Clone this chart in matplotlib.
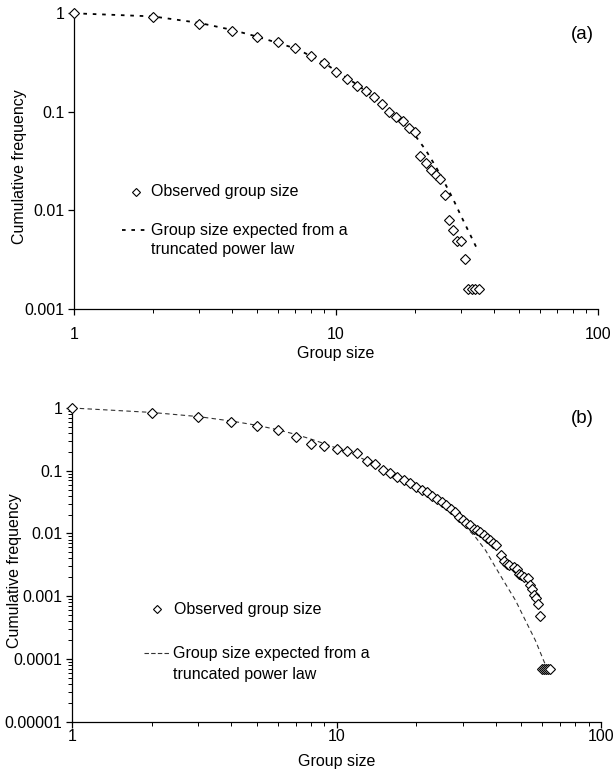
import matplotlib
matplotlib.use('Agg')
import matplotlib.pyplot as plt
from matplotlib.ticker import FixedLocator, FixedFormatter, LogLocator, NullFormatter, NullLocator
from matplotlib.lines import Line2D

plt.rcParams['font.family'] = ['Liberation Sans', 'DejaVu Sans']

# ---------------- data: panel (a) ----------------
a_size = [1, 2, 3, 4, 5, 6, 7, 8, 9, 10, 11, 12, 13, 14, 15, 16, 17, 18, 19, 20,
          21, 22, 23, 24, 25, 26, 27, 28, 29, 30, 31, 32, 33, 34, 35]
a_freq = [1.0, 0.925, 0.78, 0.667, 0.58, 0.51, 0.44, 0.372, 0.314, 0.256, 0.216,
          0.185, 0.164, 0.14, 0.119, 0.10, 0.088, 0.080, 0.068, 0.062,
          0.0353, 0.030, 0.0256, 0.0228, 0.0208, 0.0144, 0.008, 0.0064, 0.00485,
          0.00485, 0.0032, 0.0016, 0.0016, 0.0016, 0.0016]
a_fit_size = [1, 2, 3, 4, 5, 6, 7, 8, 9, 10, 12, 14, 16, 18, 20, 22, 24, 26, 28,
              30, 32, 35]
a_fit_freq = [1.0, 0.93, 0.80, 0.68, 0.58, 0.50, 0.44, 0.37, 0.315, 0.26, 0.19,
              0.14, 0.102, 0.077, 0.058, 0.041, 0.028, 0.019, 0.013, 0.0088,
              0.0062, 0.0038]

# ---------------- data: panel (b) ----------------
b_size = [1, 2, 3, 4, 5, 6, 7, 8, 9, 10, 11, 12, 13, 14, 15, 16, 17, 18, 19, 20,
          21, 22, 23, 24, 25, 26, 27, 28, 29, 30, 31, 32, 33, 34, 35, 36, 37, 38,
          39, 40, 42, 43, 44, 45, 47, 48, 49, 50, 51, 53, 54, 55, 56, 57, 58, 59,
          60, 61, 62, 63, 64]
b_freq = [1.0, 0.83, 0.72, 0.60, 0.51, 0.446, 0.349, 0.263, 0.245, 0.222, 0.204,
          0.191, 0.141, 0.126, 0.101, 0.091, 0.080, 0.072, 0.064, 0.055,
          0.049, 0.045, 0.040, 0.035, 0.032, 0.028, 0.025, 0.022, 0.018, 0.0163,
          0.0147, 0.0135, 0.012, 0.0115, 0.0106, 0.0094, 0.0086, 0.0078, 0.0070,
          0.0065, 0.0045, 0.0037, 0.0033, 0.0031, 0.0029, 0.00275, 0.0023,
          0.00215, 0.0020, 0.00197, 0.0015, 0.00128, 0.00103, 0.00095, 0.00076,
          0.00049, 0.00007, 0.00007, 0.00007, 0.00007, 0.00007]
b_fit_size = [1, 2, 3, 4, 5, 6, 7, 8, 9, 10, 12, 14, 16, 18, 20, 22, 24.4, 27.4,
              30.8, 33.5, 36.6, 39.9, 43.5, 47.5, 51.8, 56.5, 60.7, 63.4]
b_fit_freq = [1.0, 0.85, 0.73, 0.62, 0.53, 0.45, 0.38, 0.32, 0.27, 0.23, 0.17,
              0.125, 0.092, 0.068, 0.053, 0.0434, 0.0319, 0.0208, 0.0127, 0.0088,
              0.0054, 0.0029, 0.00158, 0.00086, 0.00041, 0.000197, 0.0000942,
              0.0000616]

x_ticks = [1, 10, 100]
x_tick_labels = ['1', '10', '100']
a_y_ticks = [0.001, 0.01, 0.1, 1]
a_y_tick_labels = ['0.001', '0.01', '0.1', '1']
b_y_ticks = [0.00001, 0.0001, 0.001, 0.01, 0.1, 1]
b_y_tick_labels = ['0.00001', '0.0001', '0.001', '0.01', '0.1', '1']

obs_label = 'Observed group size'
fit_label_1 = 'Group size expected from a'
fit_label_2 = 'truncated power law'

FS = 11.5

W, H = 614, 769
fig = plt.figure(figsize=(W / 100, H / 100), dpi=100)
axA = fig.add_axes([74 / W, 1 - 309 / H, 524 / W, 295.7 / H])
axB = fig.add_axes([72 / W, 1 - 721.7 / H, 529 / W, 313.7 / H])


def style(ax, yticks, ylabels, ylim, yminor, xpad, xlab_y, ylab_x):
    ax.set_xscale('log')
    ax.set_yscale('log')
    ax.set_xlim(1, 100)
    ax.set_ylim(*ylim)
    for s in ('top', 'right'):
        ax.spines[s].set_visible(False)
    for s in ('left', 'bottom'):
        ax.spines[s].set_linewidth(0.9)
    ax.xaxis.set_major_locator(FixedLocator(x_ticks))
    ax.xaxis.set_major_formatter(FixedFormatter(x_tick_labels))
    ax.xaxis.set_minor_locator(LogLocator(base=10, subs=range(2, 10)))
    ax.xaxis.set_minor_formatter(NullFormatter())
    ax.yaxis.set_major_locator(FixedLocator(yticks))
    ax.yaxis.set_major_formatter(FixedFormatter(ylabels))
    if yminor:
        ax.yaxis.set_minor_locator(LogLocator(base=10, subs=range(2, 10)))
    else:
        ax.yaxis.set_minor_locator(NullLocator())
    ax.yaxis.set_minor_formatter(NullFormatter())
    ax.tick_params(which='major', direction='out', length=4, width=0.9,
                   labelsize=FS)
    ax.tick_params(axis='y', which='major', pad=3)
    ax.tick_params(axis='x', which='major', pad=xpad)
    ax.tick_params(which='minor', direction='out', length=3, width=0.7)
    ax.set_xlabel('Group size', fontsize=FS)
    ax.xaxis.set_label_coords(0.5, xlab_y)
    ax.xaxis.label.set_va('center')
    ax.set_ylabel('Cumulative frequency', fontsize=FS)
    ax.yaxis.set_label_coords(ylab_x, 0.48)
    ax.yaxis.label.set_va('center')


style(axA, a_y_ticks, a_y_tick_labels, (0.001, 1), False, 9, -0.152, -0.104)
style(axB, b_y_ticks, b_y_tick_labels, (0.00001, 1), True, 1.5, -0.1275, -0.108)

# panel (a)
axA.plot(a_fit_size, a_fit_freq, color='black', lw=1.3, linestyle=(0, (2, 3.2)),
         clip_on=False, zorder=2)
axA.plot(a_size, a_freq, linestyle='none', marker='D', markersize=5.2,
         markerfacecolor='white', markeredgecolor='black', markeredgewidth=0.8,
         clip_on=False, zorder=3)

# panel (b)
axB.plot(b_fit_size, b_fit_freq, color='#333333', lw=0.8, linestyle=(0, (4, 3)),
         clip_on=False, zorder=2)
axB.plot(b_size, b_freq, linestyle='none', marker='D', markersize=5.0,
         markerfacecolor='white', markeredgecolor='black', markeredgewidth=0.8,
         clip_on=False, zorder=3)


# legends (drawn manually to reproduce the original layout)
def legend(ax, mx, my, ox, lx0, lx1, ly, tx, ty2, ls, lw, lc, ms):
    ax.add_line(Line2D([mx], [my], transform=ax.transAxes, marker='D',
                       markersize=ms, markerfacecolor='white',
                       markeredgecolor='black', markeredgewidth=0.8,
                       linestyle='none'))
    ax.text(ox, my, obs_label, transform=ax.transAxes, fontsize=FS,
            va='center', ha='left')
    ax.add_line(Line2D([lx0, lx1], [ly, ly], transform=ax.transAxes,
                       color=lc, lw=lw, linestyle=ls))
    ax.text(tx, ly, fit_label_1, transform=ax.transAxes, fontsize=FS,
            va='center', ha='left')
    ax.text(tx, ty2, fit_label_2, transform=ax.transAxes, fontsize=FS,
            va='center', ha='left')


legend(axA, 0.119, 0.397, 0.1466, 0.0916, 0.141, 0.267, 0.1466, 0.202,
       (0, (2, 3.2)), 1.3, 'black', 4.5)
legend(axB, 0.160, 0.358, 0.1935, 0.136, 0.183, 0.218, 0.190, 0.149,
       (0, (4, 2)), 0.8, '#333333', 4.0)

axA.text(0.971, 0.927, '(a)', transform=axA.transAxes, fontsize=13.5,
         ha='center', va='center')
axB.text(0.965, 0.967, '(b)', transform=axB.transAxes, fontsize=13.5,
         ha='center', va='center')

fig.savefig('out.png', dpi=100)
